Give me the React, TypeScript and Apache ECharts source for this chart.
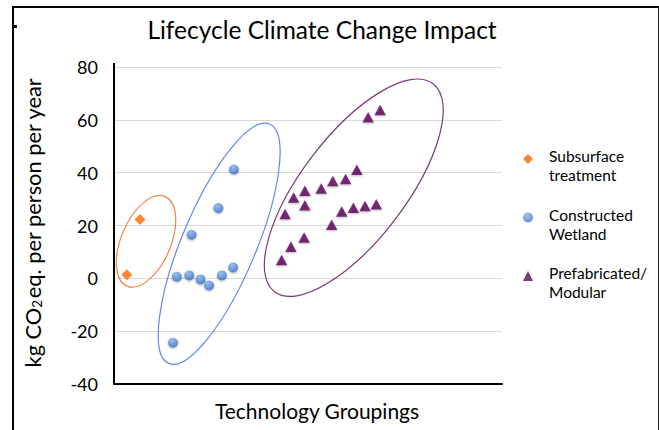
import React, { useEffect, useRef } from "react";
import * as echarts from "echarts";

const titleText = "Lifecycle Climate Change Impact";
const xAxisName = "Technology Groupings";
const yTicks = { min: -40, max: 80, interval: 20 };

const seriesNames = ["Subsurface\ntreatment", "Constructed\nWetland", "Prefabricated/\nModular"];

const subsurfaceX = [3.3, 6.7];
const subsurfaceY = [1.4, 22.3];

const wetlandX = [15.2, 16.2, 19.4, 20.0, 22.3, 24.5, 26.9, 27.8, 30.7, 30.9];
const wetlandY = [-24.4, 0.6, 1.1, 16.5, -0.4, -2.7, 26.6, 1.1, 4.1, 41.2];

const prefabX = [43.2, 45.6, 49.0, 44.1, 46.3, 49.2, 49.2, 53.4, 56.4, 59.7, 62.6, 56.1, 58.7, 61.7, 64.7, 67.6, 65.5, 68.6];
const prefabY = [6.9, 12.0, 15.5, 24.4, 30.6, 33.2, 27.7, 34.0, 36.8, 37.6, 41.1, 20.3, 25.3, 26.7, 27.4, 28.0, 61.0, 63.7];

// group outlines: centre (data units), semi-axes (px), tilt (deg)
const outlineCx = [8.25, 27.1, 61.8];
const outlineCy = [14.0, 13.1, 34.3];
const outlineA = [48.6, 129.8, 130.8];
const outlineB = [24.8, 37.1, 52.1];
const outlineAngle = [67, 67.2, 52.7];
const outlineColors = ["#f0884a", "#5f86f2", "#7d3a7d"];

const FONT = "Lato";

function zip(xs: number[], ys: number[]) {
  return xs.map((x, i) => [x, ys[i]]);
}

export default function App() {
  const ref = useRef<HTMLDivElement>(null);
  useEffect(() => {
    if (!ref.current) return;
    const chart = echarts.init(ref.current, null, { renderer: "svg" });
    const outlineData = outlineCx.map((cx, i) => [cx, outlineCy[i], outlineA[i], outlineB[i], outlineAngle[i], i]);
    chart.setOption({
      animation: false,
      backgroundColor: "#ffffff",
      textStyle: { fontFamily: FONT },
      title: {
        text: titleText,
        left: 317,
        textAlign: "center",
        top: 12,
        textStyle: { fontFamily: FONT, fontSize: 24.5, fontWeight: "normal", color: "#000" },
      },
      grid: { left: 114, right: 157, top: 67, bottom: 46 },
      legend: {
        data: seriesNames,
        orient: "vertical",
        left: 523,
        top: 135,
        padding: 0,
        itemGap: 10.5,
        itemWidth: 10,
        itemHeight: 10,
        formatter: (name: string) =>
          "{g| }\n" + name.split("\n").map((l) => "{t|" + l + "}").join("\n"),
        textStyle: {
          padding: [0, 0, 0, 11],
          rich: {
            g: { fontSize: 10, lineHeight: 13 },
            t: { fontFamily: FONT, fontSize: 15.5, lineHeight: 19, color: "#000" },
          },
        },
      },
      xAxis: {
        type: "value",
        min: 0,
        max: 100,
        name: xAxisName,
        nameLocation: "middle",
        nameGap: 16,
        nameTextStyle: { fontFamily: FONT, fontSize: 21, color: "#000", verticalAlign: "top", padding: [0, 0, 0, 18] },
        axisLine: { show: true, onZero: false, lineStyle: { color: "#000", width: 2 } },
        axisTick: { show: false },
        axisLabel: { show: false },
        splitLine: { show: false },
      },
      yAxis: {
        type: "value",
        min: yTicks.min,
        max: yTicks.max,
        interval: yTicks.interval,
        name: "{n|kg CO}{s|2}{n|eq. per person per year}",
        nameLocation: "middle",
        nameRotate: 90,
        nameGap: 70,
        nameTextStyle: {
          color: "#000",
          padding: [0, 0, 0, 6],
          rich: {
            n: { fontFamily: FONT, fontSize: 21.8, color: "#000" },
            s: { fontFamily: FONT, fontSize: 13.5, color: "#000", padding: [9, 1, 0, 0] },
          },
        },
        axisLine: { show: true, onZero: false, lineStyle: { color: "#000", width: 2 } },
        axisTick: { show: false },
        axisLabel: { fontFamily: FONT, fontSize: 18, color: "#000", margin: 16 },
        splitLine: { show: true, lineStyle: { color: "#d9d9d9", width: 1 } },
      },
      series: [
        {
          type: "custom",
          silent: true,
          clip: false,
          z: 1,
          data: outlineData,
          renderItem: (params: any, api: any) => {
            const p = api.coord([api.value(0), api.value(1)]);
            const idx = api.value(5);
            return {
              type: "ellipse",
              x: p[0],
              y: p[1],
              rotation: (api.value(4) * Math.PI) / 180,
              shape: { cx: 0, cy: 0, rx: api.value(2), ry: api.value(3) },
              style: { fill: "none", stroke: outlineColors[idx], lineWidth: 1.2 },
            };
          },
        },
        {
          name: seriesNames[0],
          type: "scatter",
          z: 3,
          symbol: "diamond",
          symbolSize: 11,
          data: zip(subsurfaceX, subsurfaceY),
          itemStyle: { color: "#ff6600" },
        },
        {
          name: seriesNames[1],
          type: "scatter",
          z: 3,
          symbol: "circle",
          symbolSize: 10,
          data: zip(wetlandX, wetlandY),
          itemStyle: {
            color: {
              type: "radial",
              x: 0.4,
              y: 0.3,
              r: 0.75,
              colorStops: [
                { offset: 0, color: "#8db5ee" },
                { offset: 1, color: "#356cc0" },
              ],
            },
            shadowBlur: 2,
            shadowColor: "rgba(0,0,0,0.35)",
            shadowOffsetY: 1,
          },
        },
        {
          name: seriesNames[2],
          type: "scatter",
          z: 3,
          symbol: "triangle",
          symbolSize: [11.5, 10.5],
          data: zip(prefabX, prefabY),
          itemStyle: {
            color: "#5c025c",
            shadowBlur: 2,
            shadowColor: "rgba(0,0,0,0.35)",
            shadowOffsetY: 1,
          },
        },
      ],
      graphic: [
        { type: "line", shape: { x1: 13, y1: 6, x2: 13, y2: 430 }, style: { stroke: "#000", lineWidth: 2 } },
        { type: "line", shape: { x1: 12, y1: 7, x2: 659, y2: 7 }, style: { stroke: "#000", lineWidth: 2 } },
        { type: "line", shape: { x1: 658.5, y1: 7, x2: 658.5, y2: 430 }, style: { stroke: "#222", lineWidth: 1 } },
        { type: "rect", shape: { x: 14, y: 25, width: 3, height: 3 }, style: { fill: "#000" } },
        { type: "line", shape: { x1: 114, y1: 63, x2: 114, y2: 68 }, style: { stroke: "#000", lineWidth: 2 } },
      ],
    });
    return () => chart.dispose();
  }, []);
  return <div ref={ref} style={{ position: "fixed", left: 0, top: 0, width: 659, height: 430 }} />;
}
